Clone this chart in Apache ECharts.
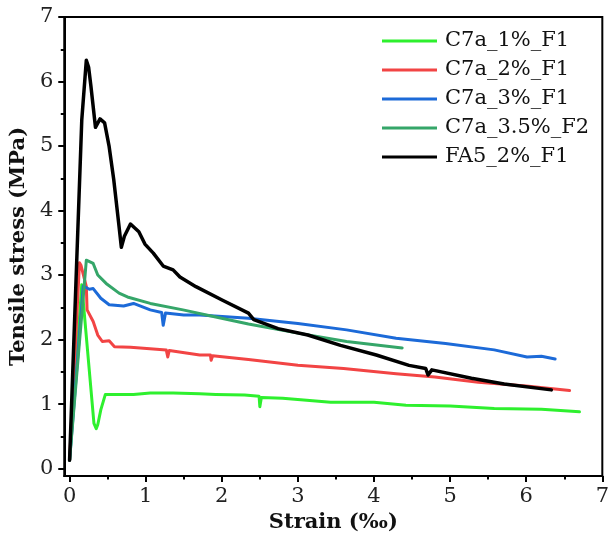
<!DOCTYPE html>
<html><head><meta charset="utf-8">
<script src="https://cdn.jsdelivr.net/npm/echarts@6/dist/echarts.min.js"></script>
<style>html,body{margin:0;padding:0;background:#fff}#c{width:612px;height:538px}</style>
</head><body><div id="c"></div>
<script>
const seriesNames = ['C7a_1%_F1', 'C7a_2%_F1', 'C7a_3%_F1', 'C7a_3.5%_F2', 'FA5_2%_F1'];
const xTicks = [0, 1, 2, 3, 4, 5, 6, 7];
const yTicks = [0, 1, 2, 3, 4, 5, 6, 7];
const xMinorTicks = [0.5, 1.5, 2.5, 3.5, 4.5, 5.5, 6.5];
const yMinorTicks = [0.5, 1.5, 2.5, 3.5, 4.5, 5.5, 6.5];

const c1x = [0, 0.16, 0.32, 0.35, 0.37, 0.41, 0.47, 0.6, 0.84, 1.06, 1.36, 1.71, 1.92, 2.3, 2.49, 2.50, 2.52, 2.8, 3.43, 4.0, 4.42, 5.0, 5.58, 6.2, 6.70];
const c1y = [0.13, 2.85, 0.70, 0.62, 0.68, 0.91, 1.15, 1.15, 1.15, 1.17, 1.17, 1.16, 1.15, 1.14, 1.12, 0.96, 1.10, 1.09, 1.03, 1.03, 0.98, 0.97, 0.93, 0.92, 0.88];

const c2x = [0, 0.13, 0.15, 0.22, 0.23, 0.31, 0.37, 0.43, 0.52, 0.59, 0.8, 1.27, 1.29, 1.31, 1.71, 1.85, 1.86, 1.88, 2.35, 3.0, 3.6, 4.29, 4.8, 5.37, 6.0, 6.57];
const c2y = [0.13, 3.19, 3.15, 2.82, 2.46, 2.28, 2.07, 1.97, 1.98, 1.89, 1.88, 1.84, 1.73, 1.83, 1.76, 1.76, 1.68, 1.75, 1.69, 1.60, 1.55, 1.47, 1.42, 1.34, 1.28, 1.21];

const c3x = [0, 0.18, 0.26, 0.31, 0.41, 0.52, 0.71, 0.84, 1.06, 1.21, 1.23, 1.26, 1.5, 1.71, 2.35, 3.0, 3.64, 4.29, 4.94, 5.58, 6.01, 6.2, 6.38];
const c3y = [0.13, 2.83, 2.78, 2.79, 2.64, 2.54, 2.52, 2.56, 2.46, 2.42, 2.22, 2.41, 2.38, 2.38, 2.33, 2.25, 2.15, 2.02, 1.94, 1.84, 1.73, 1.74, 1.70];

const c4x = [0, 0.22, 0.31, 0.37, 0.48, 0.65, 0.76, 1.06, 1.49, 1.92, 2.35, 3.0, 3.64, 4.37];
const c4y = [0.13, 3.23, 3.18, 3.00, 2.87, 2.72, 2.66, 2.56, 2.46, 2.35, 2.24, 2.10, 1.97, 1.87];

const c5x = [0, 0.16, 0.22, 0.25, 0.28, 0.34, 0.40, 0.46, 0.52, 0.58, 0.65, 0.68, 0.72, 0.80, 0.91, 0.99, 1.10, 1.23, 1.36, 1.45, 1.66, 2.01, 2.35, 2.42, 2.74, 3.13, 3.56, 4.03, 4.46, 4.68, 4.71, 4.76, 5.28, 5.71, 6.33];
const c5y = [0.13, 5.40, 6.33, 6.22, 5.93, 5.29, 5.42, 5.36, 4.99, 4.48, 3.75, 3.43, 3.60, 3.79, 3.67, 3.48, 3.34, 3.14, 3.08, 2.97, 2.82, 2.61, 2.41, 2.31, 2.17, 2.07, 1.91, 1.76, 1.60, 1.55, 1.45, 1.53, 1.40, 1.31, 1.22];

const xs = [c1x, c2x, c3x, c4x, c5x];
const ys = [c1y, c2y, c3y, c4y, c5y];
const colors = ['#2ef02e', '#f24444', '#1c6ad8', '#35a669', '#000000'];
const widths = [3, 3, 3, 3, 3.5];

const FONT = 'DejaVu Serif';
const XMIN = -0.07, XMAX = 7, YMIN = -0.115, YMAX = 7;

const chart = echarts.init(document.getElementById('c'), null, {renderer: 'canvas'});
const series = seriesNames.map((n, i) => ({
  name: n, type: 'line', xAxisIndex: 0, yAxisIndex: 0,
  data: xs[i].map((x, k) => [x, ys[i][k]]),
  symbol: 'none', showSymbol: false, smooth: false, animation: false,
  lineStyle: {color: colors[i], width: widths[i], join: 'round', cap: 'round'},
  itemStyle: {color: colors[i]}, z: 2 + i
}));

chart.setOption({
  animation: false,
  backgroundColor: '#fff',
  grid: {left: 62, top: 17, right: 5, bottom: 62, show: true, borderColor: '#000', borderWidth: 2, containLabel: false},
  legend: {
    orient: 'vertical', left: 377, top: 25, itemWidth: 55, itemHeight: 3, itemGap: 7,
    icon: 'rect',
    data: seriesNames,
    textStyle: {fontFamily: FONT, fontSize: 21, color: '#111', lineHeight: 22, padding: [0, 0, 0, 3]}
  },
  xAxis: [{
    type: 'value', min: XMIN, max: XMAX, position: 'bottom',
    name: 'Strain (‰)', nameLocation: 'middle', nameGap: 29,
    nameTextStyle: {fontFamily: FONT, fontWeight: 'bold', fontSize: 21, color: '#111'},
    axisLine: {show: true, onZero: false, lineStyle: {color: '#000', width: 2}},
    axisTick: {show: true, inside: false, length: 6, lineStyle: {color: '#000', width: 2}, customValues: xTicks},
    axisLabel: {show: true, margin: 10, fontFamily: FONT, fontSize: 21, color: '#222', customValues: xTicks},
    splitLine: {show: false}
  }, {
    type: 'value', min: XMIN, max: XMAX, position: 'bottom', gridIndex: 0,
    axisLine: {show: false, onZero: false},
    axisTick: {show: true, inside: false, length: 3.5, lineStyle: {color: '#000', width: 2}, customValues: xMinorTicks},
    axisLabel: {show: false, customValues: xMinorTicks},
    splitLine: {show: false}
  }],
  yAxis: [{
    type: 'value', min: YMIN, max: YMAX, position: 'left',
    name: 'Tensile stress (MPa)', nameLocation: 'middle', nameGap: 29, nameRotate: 90,
    nameTextStyle: {fontFamily: FONT, fontWeight: 'bold', fontSize: 21, color: '#111'},
    axisLine: {show: true, onZero: false, lineStyle: {color: '#000', width: 2}},
    axisTick: {show: true, inside: false, length: 6, lineStyle: {color: '#000', width: 2}, customValues: yTicks},
    axisLabel: {show: true, margin: 11, fontFamily: FONT, fontSize: 21, color: '#222', customValues: yTicks},
    splitLine: {show: false}
  }, {
    type: 'value', min: YMIN, max: YMAX, position: 'left', gridIndex: 0,
    axisLine: {show: false, onZero: false},
    axisTick: {show: true, inside: false, length: 3.5, lineStyle: {color: '#000', width: 2}, customValues: yMinorTicks},
    axisLabel: {show: false, customValues: yMinorTicks},
    splitLine: {show: false}
  }],
  series: series
});
</script>
</body></html>
